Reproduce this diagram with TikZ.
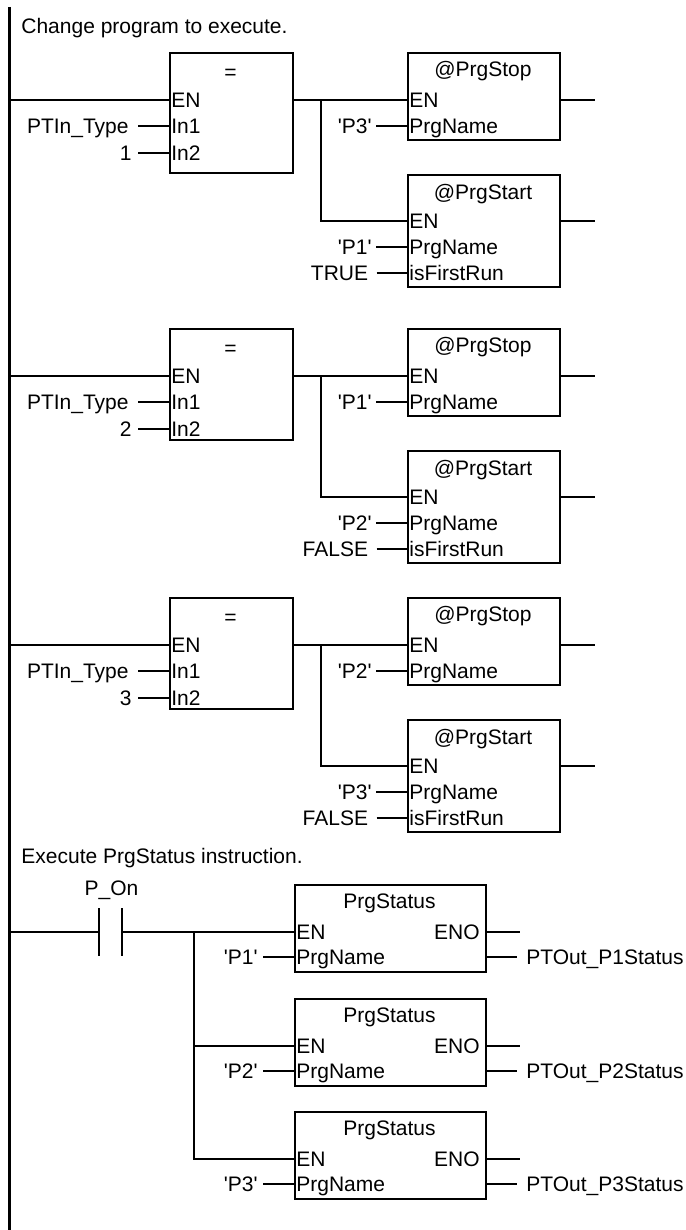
\documentclass[tikz,border=0pt]{standalone}
\usepackage{fontspec}
\setmainfont{Liberation Sans}
\tikzset{
  ln/.style={line width=1pt},
  rail/.style={line width=1.5pt},
  fbox/.style={draw, line width=1pt, inner sep=0pt, anchor=north west},
  lbl/.style={inner sep=0pt, text height=7.5pt, text depth=0pt, font=\fontsize{10.5}{12}\selectfont},
}
\newcommand{\sq}[1]{\textquotesingle#1\textquotesingle}
\newcommand{\cmpblock}[7]{%
  \pgfmathsetmacro{\ey}{#2}%
  % compare box
  \node[fbox, minimum width=61.5pt, minimum height=#7*0.5pt] (eq#1) at (169,\ey-48) {};
  \node[lbl] (eqt#1) at (230.5,\ey-28) {=};
  \node[lbl, anchor=west] (eqen#1) at (171,\ey) {EN};
  \node[lbl, anchor=west] (eqina#1) at (171,\ey+26) {In1};
  \node[lbl, anchor=west] (eqinb#1) at (171,\ey+53) {In2};
  \node[lbl, anchor=east] (va#1) at (129,\ey+26) {PTIn\_Type};
  \node[lbl, anchor=east] (vb#1) at (132,\ey+53) {#3};
  \draw[ln] ([xshift=4.5pt]va#1.east) -- (va#1.east -| eq#1.west);
  \draw[ln] ([xshift=3pt]vb#1.east) -- (vb#1.east -| eq#1.west);
  \draw[ln] (rt |- eqen#1.west) -- (eqen#1.west -| eq#1.west);
  % stop box
  \node[fbox, minimum width=76pt, minimum height=43.5pt] (stop#1) at (407,\ey-48) {};
  \node[lbl] (stopt#1) at (483,\ey-31) {@PrgStop};
  \node[lbl, anchor=west] (stopen#1) at (409,\ey) {EN};
  \node[lbl, anchor=west] (stoppn#1) at (409,\ey+26) {PrgName};
  \node[lbl, anchor=east] (vc#1) at (372,\ey+26) {\sq{#4}};
  \draw[ln] ([xshift=2pt]vc#1.east) -- (vc#1.east -| stop#1.west);
  \draw[ln] (eq#1.east |- eqen#1.west) -- (stop#1.west |- eqen#1.west);
  \draw[ln] (stop#1.east |- stopen#1.west) -- ++(17pt,0);
  % start box
  \node[fbox, minimum width=76pt, minimum height=56pt] (start#1) at (407,\ey+74) {};
  \node[lbl] (startt#1) at (483,\ey+92) {@PrgStart};
  \node[lbl, anchor=west] (starten#1) at (409,\ey+121) {EN};
  \node[lbl, anchor=west] (startpn#1) at (409,\ey+147) {PrgName};
  \node[lbl, anchor=west] (startfr#1) at (409,\ey+173) {isFirstRun};
  \node[lbl, anchor=east] (vd#1) at (372,\ey+147) {\sq{#5}};
  \node[lbl, anchor=east] (ve#1) at (368.5,\ey+173) {#6};
  \draw[ln] ([xshift=2pt]vd#1.east) -- (vd#1.east -| start#1.west);
  \draw[ln] ([xshift=4pt]ve#1.east) -- (ve#1.east -| start#1.west);
  \coordinate (br#1) at (321,\ey);
  \draw[ln] (br#1) |- (starten#1.west -| start#1.west);
  \draw[ln] (start#1.east |- starten#1.west) -- ++(17pt,0);
}
\newcommand{\stsblock}[3]{%
  \pgfmathsetmacro{\sy}{#2}%
  \node[fbox, minimum width=95.5pt, minimum height=43.5pt] (ps#1) at (294,\sy-48) {};
  \node[lbl] (pst#1) at (389.5,\sy-31) {PrgStatus};
  \node[lbl, anchor=west] (psen#1) at (296,\sy) {EN};
  \node[lbl, anchor=east] (pseno#1) at (480,\sy) {ENO};
  \node[lbl, anchor=west] (pspn#1) at (296,\sy+25) {PrgName};
  \node[lbl, anchor=east] (psv#1) at (258,\sy+25) {\sq{P#1}};
  \node[lbl, anchor=west] (pso#1) at (526,\sy+25) {#3};
  \draw[ln] ([xshift=2.5pt]psv#1.east) -- (psv#1.east -| ps#1.west);
  \draw[ln] (ps#1.east |- pseno#1.east) -- ++(16.5pt,0);
  \draw[ln] (ps#1.east |- pso#1.west) -- ([xshift=-4.5pt]pso#1.west);
}
\begin{document}
\begin{tikzpicture}[x=0.5pt, y=-0.5pt]
  \useasboundingbox (0,0) rectangle (685,1230);
  \coordinate (rt) at (9.5,7);
  \coordinate (rb) at (9.5,1230);
  \draw[rail] (rt) -- (rb);
  \node[lbl, anchor=west] (title1) at (21,26) {Change program to execute.};
  \cmpblock{1}{100}{1}{P3}{P1}{TRUE}{120}
  \cmpblock{2}{376}{2}{P1}{P2}{FALSE}{111}
  \cmpblock{3}{645}{3}{P2}{P3}{FALSE}{111}
  % PrgStatus rung
  \node[lbl, anchor=west] (title2) at (21,856) {Execute PrgStatus instruction.};
  \node[lbl] (pon) at (111.5,888) {P\_On};
  \node[minimum width=11.5pt, minimum height=23.5pt, inner sep=0pt] (con) at (110.5,932) {};
  \draw[ln] (con.north west) -- (con.south west);
  \draw[ln] (con.north east) -- (con.south east);
  \draw[ln] (rt |- con.west) -- (con.west);
  \stsblock{1}{932}{PTOut\_P1Status}
  \stsblock{2}{1046}{PTOut\_P2Status}
  \stsblock{3}{1159}{PTOut\_P3Status}
  \draw[ln] (con.east) -- (ps1.west |- con.east);
  \coordinate (pbr) at (194,932);
  \draw[ln] (pbr) |- (psen3.west -| ps3.west);
  \draw[ln] (pbr |- psen2.west) -- (psen2.west -| ps2.west);
\end{tikzpicture}
\end{document}
